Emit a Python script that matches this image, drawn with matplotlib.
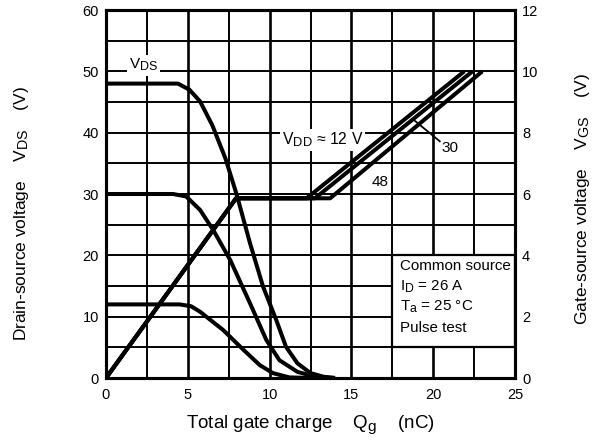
import matplotlib
matplotlib.use("Agg")
import matplotlib.pyplot as plt
from matplotlib.patches import Rectangle
import matplotlib._mathtext as _mt

_mt.SHRINK_FACTOR = 0.82

plt.rcParams['font.family'] = ['Liberation Sans', 'DejaVu Sans']
plt.rcParams['mathtext.fontset'] = 'custom'
plt.rcParams['mathtext.rm'] = 'Liberation Sans'
plt.rcParams['mathtext.it'] = 'Liberation Sans:italic'

# ---- data ----
# Drain-source voltage curves (V) vs total gate charge (nC)
q_vds48 = [0, 4.4, 5.1, 5.75, 6.5, 7.3, 8.0, 8.8, 9.6, 10.4, 11.0, 11.7, 12.5, 13.3, 14.0]
v_vds48 = [48, 48, 47.0, 45.1, 41.2, 35.8, 29.8, 22.0, 14.9, 9.5, 5.1, 2.4, 0.8, 0.2, 0]
q_vds30 = [0, 4.1, 4.9, 5.75, 6.56, 7.6, 8.8, 9.8, 10.6, 11.7, 12.8, 14.0]
v_vds30 = [30, 30, 29.6, 27.4, 24.1, 19.2, 12.2, 6.2, 2.9, 1.0, 0.2, 0]
q_vds12 = [0, 4.5, 5.2, 5.75, 7.17, 8.4, 9.4, 10.2, 11.2, 12.5]
v_vds12 = [12, 12, 11.7, 10.8, 7.8, 4.6, 2.1, 0.8, 0.1, 0]

# Gate-source voltage curves (V)
q_vgs12 = [0, 7.95, 12.26, 21.9]
q_vgs30 = [0, 7.95, 12.77, 22.4]
q_vgs48 = [0, 7.95, 13.7, 23.0]
v_vgs = [0, 5.86, 5.86, 10.0]

x_ticks = [0, 5, 10, 15, 20, 25]
y_ticks_left = [0, 10, 20, 30, 40, 50, 60]
y_ticks_right = [0, 2, 4, 6, 8, 10, 12]

W, H = 603, 447
fig = plt.figure(figsize=(W / 100, H / 100), dpi=100)
ax = fig.add_axes([106 / W, 1 - 378 / H, (515 - 106) / W, (378 - 10) / H])
ax2 = ax.twinx()

ax.set_xlim(0, 25)
ax.set_ylim(0, 60)
ax2.set_ylim(0, 12)

# grid
for xv in [2.5 * i for i in range(1, 10)]:
    lw = 1.9 if xv % 5 == 0 else 1.4
    ax.axvline(xv, color='black', lw=lw, zorder=1)
for yv in range(5, 60, 5):
    ax.axhline(yv, color='black', lw=1.4, zorder=1)

lk = dict(color='black', lw=2.9, solid_joinstyle='round', solid_capstyle='butt', zorder=4)
ax.plot(q_vds48, v_vds48, **lk)
ax.plot(q_vds30, v_vds30, **lk)
ax.plot(q_vds12, v_vds12, **lk)
ax2.plot(q_vgs12, v_vgs, **lk)
ax2.plot(q_vgs30, v_vgs, **lk)
ax2.plot(q_vgs48, v_vgs, **lk)

ax.set_xticks(x_ticks)
ax.set_yticks(y_ticks_left)
ax2.set_yticks(y_ticks_right)
ax.tick_params(axis='both', length=0, labelsize=10.5, pad=5)
ax.tick_params(axis='x', pad=7)
ax2.tick_params(axis='y', length=0, labelsize=10.5, pad=5)

for a in (ax, ax2):
    for s in a.spines.values():
        s.set_linewidth(2.2)
ax2.patch.set_visible(False)

# annotations
bb = dict(facecolor='white', edgecolor='none', pad=1.5)
ax.text(2.3, 51.0, r'V$_{\mathregular{DS}}$', fontsize=11, ha='center', va='center', bbox=bb, zorder=3)
ax.text(10.75, 38.8, r'V$_{\mathregular{DD}}$ ≈ 12 V', fontsize=11.3, ha='left', va='center', bbox=bb, zorder=3)
ax.text(16.75, 32.0, '48', fontsize=11, ha='center', va='center', bbox=bb, zorder=3)
ax.text(21.0, 37.5, '30', fontsize=11, ha='center', va='center', zorder=3)
ax.plot([18.8, 20.4], [42.1, 38.6], color='black', lw=1.3, zorder=3)

ax.add_patch(Rectangle((17.5, 5), 7.5, 15, facecolor='white', edgecolor='black', lw=1.6, zorder=2))
for yv, s in zip([18.3, 14.8, 11.6, 8.2],
                 ['Common source', r'I$_{\mathregular{D}}$ = 26 A',
                  r'T$_{\mathregular{a}}$ = 25 °C', 'Pulse test']):
    ax.text(17.95, yv, s, fontsize=10.9, ha='left', va='center', zorder=3)

fig.text(310.5 / W, 1 - 425 / H, r'Total gate charge    Q$_{\mathregular{g}}$    (nC)',
         fontsize=13.5, ha='center', va='center')
fig.text(22 / W, 1 - 213 / H, r'Drain-source voltage    V$_{\mathregular{DS}}$    (V)',
         fontsize=12.5, ha='center', va='center', rotation=90)
fig.text(583 / W, 1 - 199 / H, r'Gate-source voltage    V$_{\mathregular{GS}}$    (V)',
         fontsize=12.5, ha='center', va='center', rotation=90)

fig.savefig('out.png', dpi=100)
